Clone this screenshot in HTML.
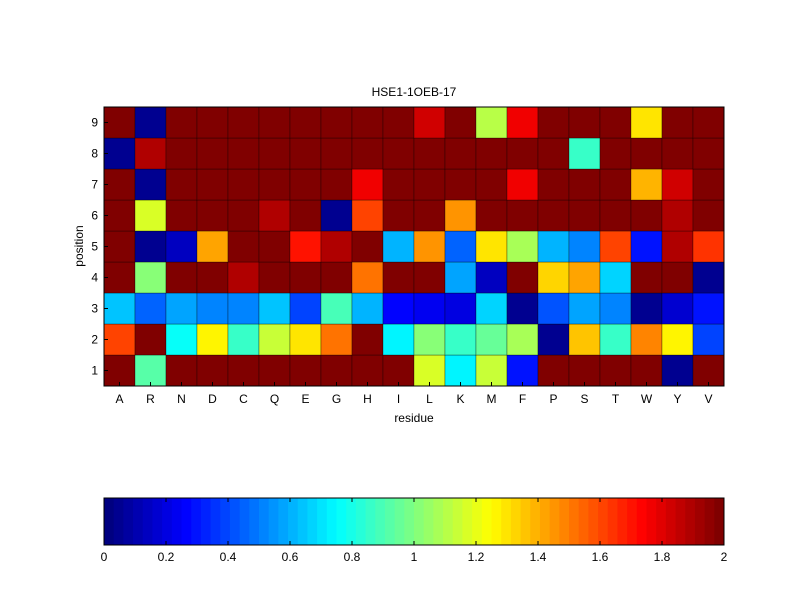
<!DOCTYPE html>
<html><head><meta charset="utf-8">
<style>
html,body{margin:0;padding:0;background:#fff;}
svg text{font-family:"Liberation Sans",sans-serif;font-size:12px;fill:#000;}
</style></head>
<body>
<svg id="chart" width="800" height="600" viewBox="0 0 800 600" xmlns="http://www.w3.org/2000/svg">
<rect width="800" height="600" fill="#fff"/>
<text x="414" y="96" text-anchor="middle">HSE1-1OEB-17</text>
<text x="414" y="422" text-anchor="middle">residue</text>
<text transform="translate(83,246) rotate(-90)" text-anchor="middle">position</text>
<g id="cells"></g>
<g id="axes"></g>
<g id="cbar"></g>
</svg>
<script>
const residues = ["A","R","N","D","C","Q","E","G","H","I","L","K","M","F","P","S","T","W","Y","V"];
const positions = [1,2,3,4,5,6,7,8,9];
// values by position row (1..9), columns follow residues
const row1 = [2,0.93,2,2,2,2,2,2,2,2,1.18,0.74,1.13,0.3,2,2,2,2,0.05,2];
const row2 = [1.6,2,0.75,1.25,0.87,1.15,1.3,1.5,2,0.73,1.02,0.85,0.95,1.07,0.05,1.36,0.87,1.47,1.25,0.4];
const row3 = [0.64,0.44,0.58,0.52,0.52,0.64,0.4,0.9,0.62,0.25,0.22,0.2,0.68,0.04,0.42,0.58,0.5,0.04,0.18,0.3];
const row4 = [2,1.02,2,2,1.9,2,2,2,1.5,2,2,0.58,0.14,2,1.33,1.43,0.68,2,2,0.04];
const row5 = [2,0.05,0.14,1.42,2,2,1.7,1.9,2,0.62,1.45,0.44,1.3,1.07,0.6,0.5,1.62,0.3,1.9,1.64];
const row6 = [2,1.18,2,2,2,1.9,2,0.05,1.6,2,2,1.45,2,2,2,2,2,2,1.9,2];
const row7 = [2,0.05,2,2,2,2,2,2,1.75,2,2,2,2,1.75,2,2,2,1.38,1.83,2];
const row8 = [0.05,1.9,2,2,2,2,2,2,2,2,2,2,2,2,2,0.85,2,2,2,2];
const row9 = [2,0.05,2,2,2,2,2,2,2,2,1.83,2,1.1,1.78,2,2,2,1.3,2,2];
const values = [row1,row2,row3,row4,row5,row6,row7,row8,row9];
const cbTicks = [0,0.2,0.4,0.6,0.8,1,1.2,1.4,1.6,1.8,2];
const cbLabels = ["0","0.2","0.4","0.6","0.8","1","1.2","1.4","1.6","1.8","2"];
const vmin = 0, vmax = 2;

const NS="http://www.w3.org/2000/svg";
const PL=104, PR=724, PT=107, PB=386;
const cw=(PR-PL)/residues.length, rh=(PB-PT)/positions.length;
const xScale = i => PL + i*cw;
const yScale = p => PB - p*rh; // p = row index from bottom
function clamp(v){return Math.max(0,Math.min(1,v));}
function jet(v){
  let t=(v-vmin)/(vmax-vmin);
  t=Math.min(63,Math.floor(clamp(t)*64))/63;
  const r=clamp(1.5-Math.abs(4*t-3)),g=clamp(1.5-Math.abs(4*t-2)),b=clamp(1.5-Math.abs(4*t-1));
  return `rgb(${Math.round(r*255)},${Math.round(g*255)},${Math.round(b*255)})`;
}
function mk(tag,attrs,parent){const e=document.createElementNS(NS,tag);for(const k in attrs)e.setAttribute(k,attrs[k]);parent.appendChild(e);return e;}

const cells=document.getElementById('cells');
values.forEach((row,ri)=>{
  row.forEach((v,ci)=>{
    const r=mk('rect',{x:xScale(ci),y:yScale(ri+1),width:cw,height:rh,fill:jet(v),stroke:'#000','stroke-width':0.6,'stroke-opacity':0.5},cells);
    
    
  });
});
const axes=document.getElementById('axes');
const frame=mk('rect',{x:PL,y:PT,width:PR-PL,height:PB-PT,fill:'none',stroke:'#000','stroke-width':1},axes);


residues.forEach((r,i)=>{
  const cx=xScale(i)+cw/2;
  mk('line',{x1:cx,y1:PB,x2:cx,y2:PB-4,stroke:'#000'},axes);
  const t=mk('text',{x:cx,y:PB+17,'text-anchor':'middle'},axes);
  t.textContent=r;
  
  
});
positions.forEach((p,i)=>{
  const cy=yScale(i)-rh/2;
  mk('line',{x1:PL,y1:cy,x2:PL+4,y2:cy,stroke:'#000'},axes);
  const t=mk('text',{x:PL-6,y:cy+4,'text-anchor':'end'},axes);
  t.textContent=p;
  
  
});
// colorbar
const cb=document.getElementById('cbar');
const CL=104, CR=724, CT=498, CB=545;
const cbX = v => CL + (v-vmin)/(vmax-vmin)*(CR-CL);
for(let k=0;k<64;k++){
  const v0=vmin+k*(vmax-vmin)/64, v1=vmin+(k+1)*(vmax-vmin)/64;
  const r=mk('rect',{x:cbX(v0),y:CT,width:cbX(v1)-cbX(v0)+0.5,height:CB-CT,fill:jet((v0+v1)/2)},cb);
  
  
}
const cf=mk('rect',{x:CL,y:CT,width:CR-CL,height:CB-CT,fill:'none',stroke:'#000'},cb);


cbTicks.forEach((v,i)=>{
  const x=cbX(v);
  mk('line',{x1:x,y1:CT,x2:x,y2:CT+4,stroke:'#000'},cb);
  mk('line',{x1:x,y1:CB,x2:x,y2:CB-4,stroke:'#000'},cb);
  const t=mk('text',{x:x,y:CB+16,'text-anchor':'middle'},cb);
  t.textContent=cbLabels[i];
  
  
});
</script>
</body></html>
